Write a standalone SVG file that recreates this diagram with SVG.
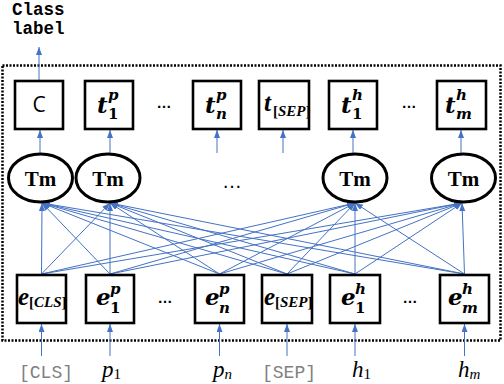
<svg xmlns="http://www.w3.org/2000/svg" width="504" height="384" viewBox="0 0 504 384">
<defs>
<marker id="ah" markerUnits="userSpaceOnUse" markerWidth="9" markerHeight="7" refX="8" refY="3" orient="auto">
<path d="M0,0 L8,3 L0,6 z" fill="#4472C4"/>
</marker>
<style>
.box{fill:#fff;stroke:#000;stroke-width:2.6}
.ell{fill:#fff;stroke:#000;stroke-width:3}
.con{stroke:#4472C4;stroke-width:1;fill:none}
.arr{marker-end:url(#ah)}
.m{font-family:"DejaVu Serif",serif;font-weight:bold;font-style:italic;fill:#000}
.big{font-size:23px}
.sm{font-size:15px}
.up{font-style:normal}
.ls{font-family:"Liberation Serif",serif;font-weight:bold;font-style:italic;font-size:25px}
.br{font-family:"Liberation Serif",serif;font-weight:bold;font-style:italic;font-size:15px}
.tm{font-family:"Liberation Serif",serif;font-weight:bold;font-size:21px;text-anchor:middle}
.dots{font-family:"Liberation Sans",sans-serif;font-weight:bold;font-size:15px;text-anchor:middle}
.mono{font-family:"Liberation Mono",monospace;font-size:18px;fill:#808080;text-anchor:middle}
.in{font-family:"Liberation Serif",serif;font-style:italic;font-size:23px}
.lab{font-family:"Liberation Mono",monospace;font-weight:bold;font-size:17.5px}
</style>
</defs>
<rect x="2.5" y="65.5" width="498" height="275" fill="none" stroke="#000" stroke-width="2.5" stroke-dasharray="2 1.5"/>

<g id="connectors">
<line class="con arr" x1="39" y1="80" x2="39" y2="47"/>
<line class="con arr" x1="40" y1="154" x2="40" y2="130"/>
<line class="con arr" x1="110" y1="154" x2="110" y2="130"/>
<line class="con arr" x1="217" y1="153" x2="217" y2="130"/>
<line class="con arr" x1="283" y1="153" x2="283" y2="130"/>
<line class="con arr" x1="353" y1="154" x2="353" y2="130"/>
<line class="con arr" x1="461" y1="154" x2="461" y2="130"/>
<line class="con arr" x1="41.5" y1="274" x2="42" y2="203"/>
<line class="con arr" x1="110" y1="274" x2="42" y2="203"/>
<line class="con arr" x1="219.5" y1="274" x2="42" y2="203"/>
<line class="con arr" x1="287" y1="274" x2="42" y2="203"/>
<line class="con arr" x1="355" y1="274" x2="42" y2="203"/>
<line class="con arr" x1="464.5" y1="274" x2="42" y2="203"/>
<line class="con arr" x1="41.5" y1="274" x2="110" y2="203"/>
<line class="con arr" x1="110" y1="274" x2="110" y2="203"/>
<line class="con arr" x1="219.5" y1="274" x2="110" y2="203"/>
<line class="con arr" x1="287" y1="274" x2="110" y2="203"/>
<line class="con arr" x1="355" y1="274" x2="110" y2="203"/>
<line class="con arr" x1="464.5" y1="274" x2="110" y2="203"/>
<line class="con arr" x1="41.5" y1="274" x2="355" y2="203"/>
<line class="con arr" x1="110" y1="274" x2="355" y2="203"/>
<line class="con arr" x1="219.5" y1="274" x2="355" y2="203"/>
<line class="con arr" x1="287" y1="274" x2="355" y2="203"/>
<line class="con arr" x1="355" y1="274" x2="355" y2="203"/>
<line class="con arr" x1="464.5" y1="274" x2="355" y2="203"/>
<line class="con arr" x1="41.5" y1="274" x2="462" y2="203"/>
<line class="con arr" x1="110" y1="274" x2="462" y2="203"/>
<line class="con arr" x1="219.5" y1="274" x2="462" y2="203"/>
<line class="con arr" x1="287" y1="274" x2="462" y2="203"/>
<line class="con arr" x1="355" y1="274" x2="462" y2="203"/>
<line class="con arr" x1="464.5" y1="274" x2="462" y2="203"/>
<line class="con arr" x1="41.5" y1="356" x2="41.5" y2="324"/>
<line class="con arr" x1="110" y1="356" x2="110" y2="324"/>
<line class="con arr" x1="219.5" y1="356" x2="219.5" y2="324"/>
<line class="con arr" x1="287" y1="356" x2="287" y2="324"/>
<line class="con arr" x1="355" y1="356" x2="355" y2="324"/>
<line class="con arr" x1="464.5" y1="356" x2="464.5" y2="324"/>
</g>

<g id="classlabel">
<text class="lab" x="12" y="15">Class</text>
<text class="lab" x="12" y="34">label</text>
</g>

<g id="C"><rect class="box" x="15" y="81" width="48" height="48"/><text x="39" y="112" font-family="Open Sans, sans-serif" font-size="21" text-anchor="middle">C</text></g>
<g id="t1p"><rect class="box" x="85" y="81" width="48" height="48"/><text class="m big" x="97" y="113">t</text><text class="m sm" x="108" y="100">p</text><text class="m sm up" x="108" y="119">1</text></g>
<g id="tnp"><rect class="box" x="193" y="81" width="48" height="48"/><text class="m big" x="205" y="113">t</text><text class="m sm" x="216" y="100">p</text><text class="m sm" x="216" y="119">n</text></g>
<g id="tsep"><rect class="box" x="259" y="81" width="50" height="48"/><text class="ls" x="264" y="111">t</text><text class="br" x="273" y="116"><tspan class="up">[</tspan>SEP<tspan class="up">]</tspan></text></g>
<g id="t1h"><rect class="box" x="329" y="81" width="48" height="48"/><text class="m big" x="341" y="113">t</text><text class="m sm" x="352" y="100">h</text><text class="m sm up" x="352" y="119">1</text></g>
<g id="tmh"><rect class="box" x="437" y="81" width="49" height="48"/><text class="m big" x="445" y="113">t</text><text class="m sm" x="456" y="100">h</text><text class="m sm" x="456" y="119">m</text></g>
<text class="dots" x="164" y="108">…</text>
<text class="dots" x="409" y="108">…</text>

<g id="tm1"><ellipse class="ell" cx="40.5" cy="178" rx="32" ry="24"/><text class="tm" x="40.5" y="186">Tm</text></g>
<g id="tm2"><ellipse class="ell" cx="108" cy="178" rx="32" ry="24"/><text class="tm" x="108" y="186">Tm</text></g>
<g id="tm3"><ellipse class="ell" cx="355" cy="178" rx="32" ry="24"/><text class="tm" x="355" y="186">Tm</text></g>
<g id="tm4"><ellipse class="ell" cx="463.5" cy="178" rx="32" ry="24"/><text class="tm" x="463.5" y="186">Tm</text></g>
<text x="232" y="188" font-family="Liberation Sans, sans-serif" font-size="20" text-anchor="middle">…</text>

<g id="ecls"><rect class="box" x="17" y="275" width="49" height="48"/><text class="ls" x="18" y="305">e</text><text class="br" x="29" y="307"><tspan class="up">[</tspan>CLS<tspan class="up">]</tspan></text></g>
<g id="e1p"><rect class="box" x="86" y="275" width="48" height="48"/><text class="m big" x="96" y="305">e</text><text class="m sm" x="110" y="294">p</text><text class="m sm up" x="110" y="313">1</text></g>
<g id="enp"><rect class="box" x="195" y="275" width="49" height="48"/><text class="m big" x="205" y="305">e</text><text class="m sm" x="219" y="294">p</text><text class="m sm" x="219" y="313">n</text></g>
<g id="esep"><rect class="box" x="262" y="275" width="50" height="48"/><text class="ls" x="264" y="305">e</text><text class="br" x="275" y="307"><tspan class="up">[</tspan>SEP<tspan class="up">]</tspan></text></g>
<g id="e1h"><rect class="box" x="330" y="275" width="50" height="48"/><text class="m big" x="341" y="305">e</text><text class="m sm" x="355" y="294">h</text><text class="m sm up" x="355" y="313">1</text></g>
<g id="emh"><rect class="box" x="440" y="275" width="49" height="48"/><text class="m big" x="448" y="305">e</text><text class="m sm" x="462" y="294">h</text><text class="m sm" x="462" y="313">m</text></g>
<text class="dots" x="165" y="303">…</text>
<text class="dots" x="410" y="303">…</text>

<g id="inputs">
<text class="mono" x="46" y="378">[CLS]</text>
<text class="in" x="102" y="377">p<tspan font-size="15" font-style="normal" dy="2">1</tspan></text>
<text class="in" x="213" y="377">p<tspan font-size="15" dy="2">n</tspan></text>
<text class="mono" x="289" y="378">[SEP]</text>
<text class="in" x="352" y="377">h<tspan font-size="15" font-style="normal" dy="2">1</tspan></text>
<text class="in" x="458" y="377">h<tspan font-size="15" dy="2">m</tspan></text>
</g>
</svg>
